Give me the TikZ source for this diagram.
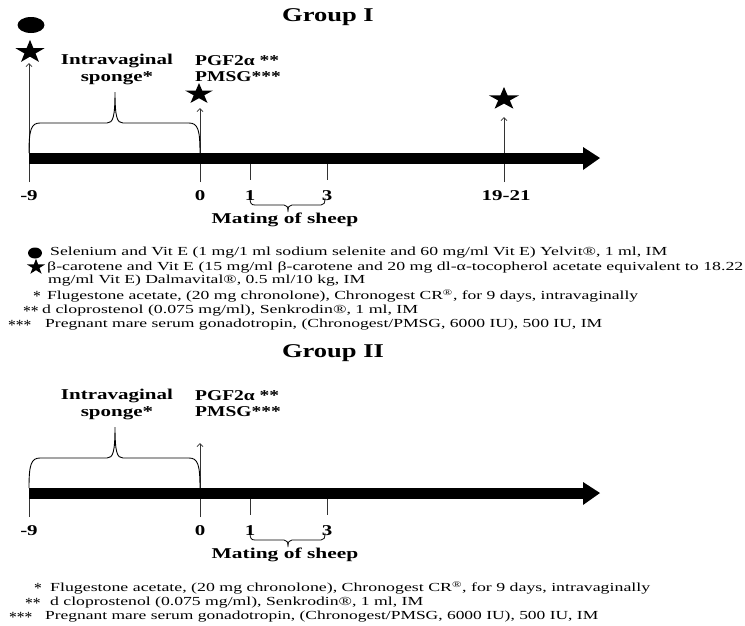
\documentclass[tikz,border=0pt]{standalone}
\usepackage{fontspec}
\setmainfont{Liberation Serif}
\usepackage{graphicx}
\usetikzlibrary{arrows.meta}
\newcommand\sx[1]{\scalebox{1.4}[1]{#1}}
\newcommand\myast[1]{{\fontsize{15.5}{16}\selectfont #1}}
\newcommand\fitw[2]{\resizebox{#1}{\height}{#2}}
\begin{document}
\begin{tikzpicture}[x=1pt,y=1pt,
  lbl/.style={font=\bfseries\fontsize{15}{17}\selectfont, inner sep=0pt},
  ttl/.style={font=\bfseries\fontsize{19.5}{21}\selectfont, inner sep=0pt},
  leg/.style={font=\fontsize{12.3}{14}\selectfont, inner sep=0pt, anchor=west},
  vline/.style={draw=black!80, line width=0.8pt},
  upar/.style={vline, -{Straight Barb[length=3pt,width=6pt]}},
  brc/.style={draw=black, line width=0.9pt},
  pics/bstar/.style={code={\fill (90:1) \foreach \a in {1,...,9}{ -- ({90+36*\a}:{0.382+0.618*mod(\a+1,2)}) } -- cycle;}}
]
\useasboundingbox (0,0) rectangle (745,-625);
\fill[white] (0,0) rectangle (745,-625);

% ================= GROUP I =================
\node[ttl] (t1) at (328,-17) {\scalebox{1.36}[1]{Group I}};
\fill (31,-25) ellipse [x radius=13.5, y radius=8];
\pic[xscale=15.2,yscale=12.2] at (30,-52) {bstar};
\pic[xscale=14.5,yscale=11] at (199,-94) {bstar};
\pic[xscale=16,yscale=12] at (504,-99) {bstar};

\coordinate (a1) at (29,-182);   \coordinate (a1t) at (29,-63);
\coordinate (b1) at (200,-182);  \coordinate (b1t) at (200,-108);
\coordinate (c1) at (504,-182);  \coordinate (c1t) at (504,-117);
\draw[upar] (a1) -- (a1t);
\draw[upar] (b1) -- (b1t);
\draw[upar] (c1) -- (c1t);

% bar
\fill (29,-152.5) rectangle (583,-163.5);
\fill (583,-147) -- (600,-158) -- (583,-170) -- cycle;
\coordinate (d1) at (250,-164); \coordinate (d1b) at (250,-180);
\coordinate (e1) at (327,-164); \coordinate (e1b) at (327,-180);
\draw[vline] (d1) -- (d1b);
\draw[vline] (e1) -- (e1b);

\node[lbl] (n9a) at (29,-196) {\sx{-9}};
\node[lbl] (n0a) at (200,-196) {\sx{0}};
\node[lbl] (n1a) at (250,-196) {\sx{1}};
\node[lbl] (n3a) at (327,-196) {\sx{3}};
\node[lbl] (n19a) at (506,-196) {\sx{19-21}};

\draw[brc] (29,-153) .. controls (29,-130) and (31,-123) .. (40,-123) -- (107,-123)
  .. controls (113,-123) and (115,-117) .. (115,-92)
  .. controls (115,-117) and (117,-123) .. (123,-123) -- (189,-123)
  .. controls (198,-123) and (200,-130) .. (200,-153);
\node[lbl] (iva) at (117,-61) {\sx{Intravaginal}};
\node[lbl] (spa) at (117,-78) {\sx{sponge*}};
\node[lbl,anchor=west] (pga) at (195,-61) {\scalebox{1.3}[1]{PGF2α **}};
\node[lbl,anchor=west] (pma) at (195,-77) {\scalebox{1.3}[1]{PMSG***}};

\draw[brc,line width=0.8pt] (250,-198) .. controls (250,-203) and (251,-205) .. (255,-205) -- (284,-205)
  .. controls (287,-205) and (288,-207) .. (288,-212)
  .. controls (288,-207) and (289,-205) .. (292,-205) -- (321,-205)
  .. controls (324,-205) and (325,-203) .. (325,-198);
\node[lbl] (msa) at (285,-220) {\scalebox{1.43}[1]{Mating of sheep}};

% legend I
\fill (35,-253) ellipse [x radius=7, y radius=5.5];
\node[leg] (l1) at (50,-253) {\fitw{617pt}{Selenium and Vit E (1 mg/1 ml sodium selenite and 60 mg/ml Vit E) Yelvit®, 1 ml, IM}};
\pic[xscale=9.5,yscale=8.3] at (36,-267) {bstar};
\node[leg] (l2) at (47,-267) {\fitw{696pt}{β-carotene and Vit E (15 mg/ml β-carotene and 20 mg dl-α-tocopherol acetate equivalent to 18.22}};
\node[leg] (l3) at (48,-281) {\fitw{317pt}{mg/ml Vit E) Dalmavital®, 0.5 ml/10 kg, IM}};
\node[leg] (s4) at (33,-296) {\myast{*}};
\node[leg] (l4) at (47,-296) {\fitw{591pt}{Flugestone acetate, (20 mg chronolone), Chronogest CR\textsuperscript{®}, for 9 days, intravaginally}};
\node[leg] (s5) at (23,-311) {\myast{**}};
\node[leg] (l5) at (42,-311) {\fitw{376pt}{d cloprostenol (0.075 mg/ml), Senkrodin®, 1 ml, IM}};
\node[leg] (s6) at (8,-325) {\myast{***}};
\node[leg] (l6) at (45,-325) {\fitw{557pt}{Pregnant mare serum gonadotropin, (Chronogest/PMSG, 6000 IU), 500 IU, IM}};

% ================= GROUP II =================
\node[ttl] (t2) at (333,-353) {\scalebox{1.36}[1]{Group II}};
\begin{scope}[yshift=-335pt]
\coordinate (a2) at (29,-182);  \coordinate (a2t) at (29,-153);
\coordinate (b2) at (200,-182); \coordinate (b2t) at (200,-108);
\draw[vline] (a2) -- (a2t);
\draw[upar] (b2) -- (b2t);
\fill (29,-152.5) rectangle (583,-163.5);
\fill (583,-147) -- (600,-158) -- (583,-170) -- cycle;
\coordinate (d2) at (250,-164); \coordinate (d2b) at (250,-180);
\coordinate (e2) at (327,-164); \coordinate (e2b) at (327,-180);
\draw[vline] (d2) -- (d2b);
\draw[vline] (e2) -- (e2b);
\node[lbl] (n9b) at (29,-196) {\sx{-9}};
\node[lbl] (n0b) at (200,-196) {\sx{0}};
\node[lbl] (n1b) at (250,-196) {\sx{1}};
\node[lbl] (n3b) at (327,-196) {\sx{3}};
\draw[brc] (29,-153) .. controls (29,-130) and (31,-123) .. (40,-123) -- (107,-123)
  .. controls (113,-123) and (115,-117) .. (115,-92)
  .. controls (115,-117) and (117,-123) .. (123,-123) -- (189,-123)
  .. controls (198,-123) and (200,-130) .. (200,-153);
\node[lbl] (ivb) at (117,-61) {\sx{Intravaginal}};
\node[lbl] (spb) at (117,-78) {\sx{sponge*}};
\node[lbl,anchor=west] (pgb) at (195,-61) {\scalebox{1.3}[1]{PGF2α **}};
\node[lbl,anchor=west] (pmb) at (195,-77) {\scalebox{1.3}[1]{PMSG***}};
\draw[brc,line width=0.8pt] (250,-198) .. controls (250,-203) and (251,-205) .. (255,-205) -- (284,-205)
  .. controls (287,-205) and (288,-207) .. (288,-212)
  .. controls (288,-207) and (289,-205) .. (292,-205) -- (321,-205)
  .. controls (324,-205) and (325,-203) .. (325,-198);
\node[lbl] (msb) at (285,-220) {\scalebox{1.43}[1]{Mating of sheep}};
\end{scope}

% legend II
\node[leg] (s7) at (34,-588) {\myast{*}};
\node[leg] (l7) at (50,-588) {\fitw{600pt}{Flugestone acetate, (20 mg chronolone), Chronogest CR\textsuperscript{®}, for 9 days, intravaginally}};
\node[leg] (s8) at (25,-603) {\myast{**}};
\node[leg] (l8) at (50,-603) {\fitw{373pt}{d cloprostenol (0.075 mg/ml), Senkrodin®, 1 ml, IM}};
\node[leg] (s9) at (9,-617) {\myast{***}};
\node[leg] (l9) at (45,-617) {\fitw{553pt}{Pregnant mare serum gonadotropin, (Chronogest/PMSG, 6000 IU), 500 IU, IM}};
\end{tikzpicture}
\end{document}
